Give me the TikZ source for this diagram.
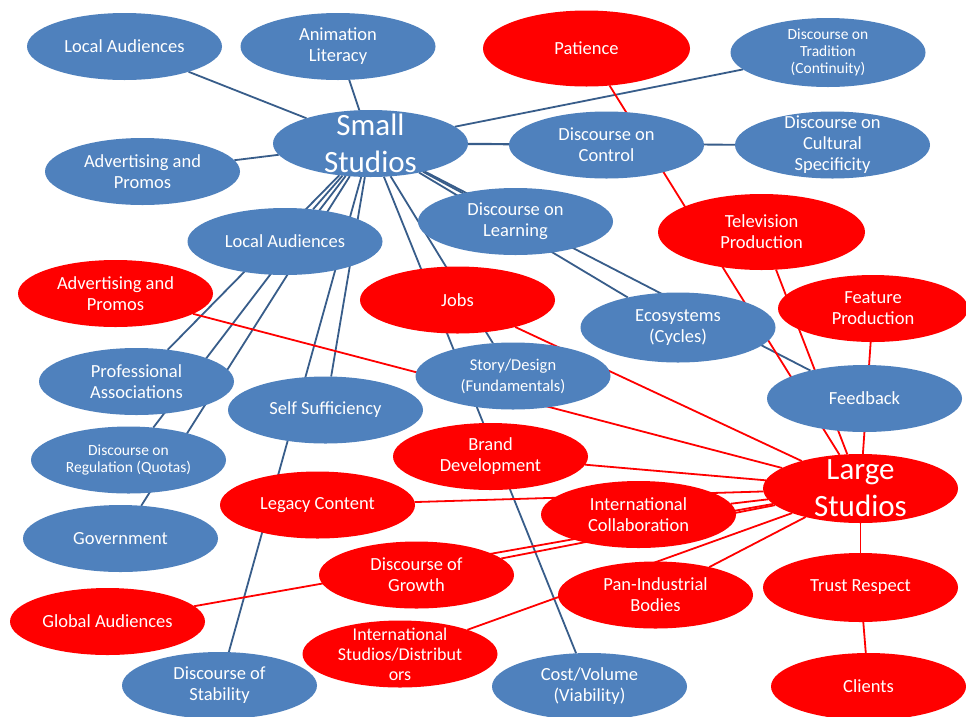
\documentclass[tikz,border=0pt]{standalone}
\usepackage{fontspec}
\setmainfont{Carlito}
\usetikzlibrary{shapes.geometric}
\pgfdeclarelayer{bg}
\pgfsetlayers{bg,main}
\definecolor{bfill}{HTML}{4F81BD}
\definecolor{bline}{HTML}{385D8A}
\definecolor{rfill}{HTML}{FF0000}
\tikzset{
  bub/.style={ellipse, inner sep=0pt, outer sep=0pt, minimum width=195pt, minimum height=67pt},
  bl/.style={bub, fill=bfill},
  rd/.style={bub, fill=rfill},
  txt/.style={text=white, align=center, font=\fontsize{18.5}{21}\selectfont, inner sep=0pt},
  sm/.style={font=\fontsize{15.5}{17}\selectfont},
  md/.style={font=\fontsize{16.5}{21}\selectfont},
  tight/.style={font=\fontsize{18}{20}\selectfont},
  big/.style={font=\fontsize{31}{37}\selectfont},
  bc/.style={draw=bline, line width=1.8pt},
  rc/.style={draw=rfill, line width=1.8pt},
}
\newcommand\bubble[6][]{%
  \node[#5] (#2) at (#3,#4) {};
  \node[txt,#1] (#2-t) at (#2) {#6};
}
\begin{document}
\begin{tikzpicture}[x=1pt,y=-1pt]
\useasboundingbox (0,0) rectangle (966,716);
% blue nodes
\bubble{la1}{124.5}{46.5}{bl}{Local Audiences}
\bubble{al}{338}{46.5}{bl}{Animation\\Literacy}
\bubble[big]{ss}{370.5}{143.5}{bl}{Small\\Studios}
\bubble{adb}{142.5}{171.5}{bl}{Advertising and\\Promos}
\bubble[sm]{dtr}{828}{52.5}{bl, minimum height=69pt}{Discourse on\\Tradition\\(Continuity)}
\bubble{dco}{606.5}{145}{bl}{Discourse on\\Control}
\bubble{dcu}{832.5}{145}{bl}{Discourse on\\Cultural\\Specificity}
\bubble{dle}{515.5}{221.5}{bl}{Discourse on\\Learning}
\bubble{la2}{285}{241.5}{bl}{Local Audiences}
\bubble{eco}{678}{327.5}{bl, minimum height=70pt}{Ecosystems\\(Cycles)}
\bubble[md]{sto}{513}{376}{bl}{Story/Design\\(Fundamentals)}
\bubble{pro}{136.5}{381.5}{bl}{Professional\\Associations}
\bubble{sel}{325.5}{410}{bl}{Self Sufficiency}
\bubble{fee}{864.5}{398.5}{bl}{Feedback}
\bubble[sm]{dre}{128.5}{460}{bl}{Discourse on\\Regulation (Quotas)}
\bubble{gov}{120.5}{538.5}{bl}{Government}
\bubble{dst}{219.5}{685.5}{bl}{Discourse of\\Stability}
\bubble{cos}{589.5}{686.5}{bl}{Cost/Volume\\(Viability)}
% red nodes
\bubble{pat}{586.5}{48.5}{rd, minimum width=207pt, minimum height=76pt}{Patience}
\bubble{tvp}{761.5}{232}{rd, minimum width=207pt, minimum height=76pt}{Television\\Production}
\bubble{adr}{115.5}{293.5}{rd}{Advertising and\\Promos}
\bubble{job}{457.5}{300}{rd}{Jobs}
\bubble{fea}{873}{308.5}{rd, minimum width=190pt}{Feature\\Production}
\bubble{bra}{490.5}{456.5}{rd}{Brand\\Development}
\bubble[big]{ls}{860.5}{488.5}{rd, minimum height=69pt}{Large\\Studios}
\bubble{leg}{317.5}{505}{rd}{Legacy Content}
\bubble{ico}{638.5}{514.5}{rd}{International\\Collaboration}
\bubble{gro}{416.5}{575}{rd}{Discourse of\\Growth}
\bubble{pan}{655.5}{595}{rd}{Pan-Industrial\\Bodies}
\bubble{tru}{860.5}{587.5}{rd, minimum height=69pt}{Trust Respect}
\bubble{glo}{107.5}{621.5}{rd}{Global Audiences}
\bubble[tight]{ist}{400}{654}{rd}{International\\Studios/Distribut\\ors}
\bubble{cli}{868.5}{686.5}{rd}{Clients}
% connectors
\begin{pgfonlayer}{bg}
\fill[white] (0,0) rectangle (966,716);
\foreach \t in {la1,al,adb,dtr,dco,dcu,dle,eco,fee,la2,pro,dre,gov,sel,dst,cos,sto}
  \draw[bc] (ss) -- (\t);
\foreach \t in {pat,tvp,fea,job,adr,bra,leg,ico,gro,glo,ist,pan,tru}
  \draw[rc] (\t) -- (ls);
\draw[rc] (tru) -- (cli);
\end{pgfonlayer}
\end{tikzpicture}
\end{document}
